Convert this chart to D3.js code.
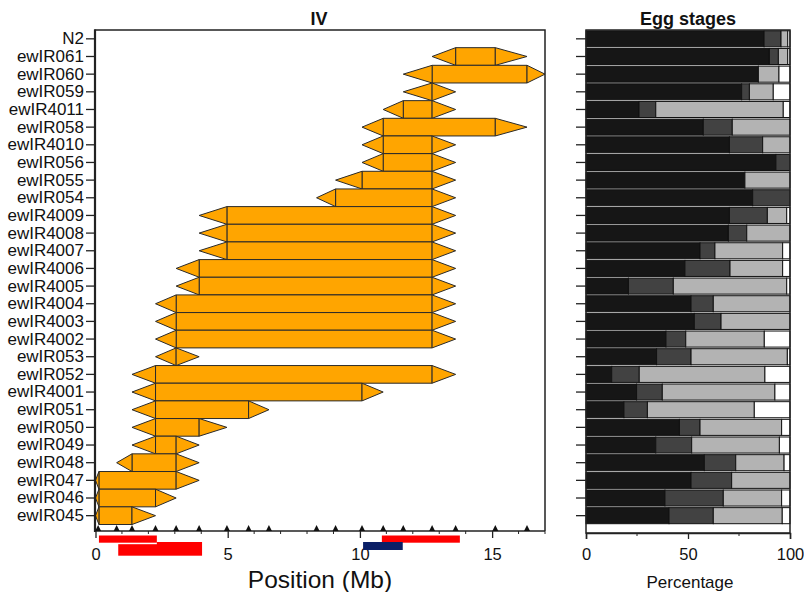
<!DOCTYPE html>
<html><head><meta charset="utf-8">
<script src="https://cdn.jsdelivr.net/npm/d3@7"></script>
<style>body{margin:0;background:#fff}svg{display:block;font-family:"Liberation Sans",Arial,sans-serif}</style>
</head><body><svg id="c" width="804" height="592"></svg>
<script>
const strains = ["N2","ewIR061","ewIR060","ewIR059","ewIR4011","ewIR058","ewIR4010","ewIR056","ewIR055","ewIR054","ewIR4009","ewIR4008","ewIR4007","ewIR4006","ewIR4005","ewIR4004","ewIR4003","ewIR4002","ewIR053","ewIR052","ewIR4001","ewIR051","ewIR050","ewIR049","ewIR048","ewIR047","ewIR046","ewIR045"];
// introgression intervals (Mb): outer left, inner left, inner right, outer right
const outerLeft  = [null,12.73,11.64,11.64,10.88,10.08,10.08,10.08,9.08,8.36,3.92,3.92,3.92,3.05,3.05,2.27,2.27,2.27,2.27,1.38,1.38,1.38,1.38,1.38,0.8,0,0,0];
const innerLeft  = [null,13.62,12.73,12.73,11.64,10.88,10.88,10.88,10.08,9.08,4.97,4.97,4.97,3.92,3.92,3.05,3.05,3.05,3.05,2.27,2.27,2.27,2.27,2.27,1.38,0.13,0.13,0.13];
const innerRight = [null,15.12,16.32,12.73,12.73,15.12,12.73,12.73,12.73,12.73,12.73,12.73,12.73,12.73,12.73,12.73,12.73,12.73,3.05,12.73,10.08,5.79,3.92,3.05,3.05,3.05,2.27,1.38];
const outerRight = [null,16.32,17.0,13.62,13.62,16.32,13.62,13.62,13.62,13.62,13.62,13.62,13.62,13.62,13.62,13.62,13.62,13.62,3.92,13.62,10.88,6.56,4.97,3.92,3.92,3.92,3.05,2.27];
const markerPos = [0.1,0.8,1.38,2.27,3.05,3.92,4.97,5.79,6.56,8.36,9.08,10.08,10.88,11.64,12.73,13.62,15.12,16.32];
const posTicks = [0,5,10,15];
const regionStart = [0.13,0.86,10.83,10.12];
const regionEnd   = [2.32,4.03,13.78,11.62];
const regionLevel = [0,1,0,1];
const regionKind  = ["red","red","red","navy"];
// egg stages (%)
const stage1 = [87.3,89.9,84.5,76.3,26.0,57.5,70.3,93.1,77.9,81.7,70.3,69.8,55.9,48.5,20.8,51.5,53.1,39.2,34.6,12.6,24.8,18.6,45.8,34.2,58.0,51.5,38.7,40.7];
const stage2 = [8.3,4.4,0,3.8,8.2,14.2,16.3,6.9,0,18.3,18.6,9.0,7.3,22.1,22.0,10.9,13.1,9.7,16.9,13.5,12.6,11.5,10.1,17.6,15.4,19.9,28.6,21.7];
const stage3 = [3.3,4.6,10.1,11.7,62.5,28.3,13.4,0,22.1,0,9.5,21.2,33.2,25.8,55.6,37.6,33.8,38.5,47.2,61.6,55.2,52.4,40.0,43.0,23.7,28.6,28.6,33.8];
const stage4 = [1.1,1.1,5.4,8.2,3.3,0,0,0,0,0,1.6,0,3.6,3.6,1.6,0,0,12.6,1.3,12.3,7.4,17.5,4.1,5.2,2.9,0,4.1,3.8];
const pctTicks = [0,50,100];

const svg = d3.select("#c");
const FONT = '"Liberation Sans",Arial,sans-serif';
const y = d3.scaleBand().domain(strains).range([30,524.5]).padding(0);
const x = d3.scaleLinear().domain([0,17]).range([95.5,545]);
const xp = d3.scaleLinear().domain([0,100]).range([586,790]);
const axisY = 531, axisY2 = 533;

// ---------- left panel ----------
const gL = svg.append("g");
strains.forEach((s,i)=>{
  if (outerLeft[i]==null) return;
  const t=y(s), b=y(s)+y.bandwidth(), m=t+y.bandwidth()/2;
  const xl0=x(outerLeft[i]), xl1=x(innerLeft[i]), xr0=x(innerRight[i]), xr1=x(outerRight[i]);
  const st={fill:"#FFA500",stroke:"#2a2a2a","stroke-width":1};
  const add=(d)=>{const p=gL.append("path").attr("d",d);Object.entries(st).forEach(([k,v])=>p.attr(k,v));};
  if (xr0>xl1) add(`M${xl1},${t}H${xr0}V${b}H${xl1}Z`);
  add(`M${xl1},${t}L${xl0},${m}L${xl1},${b}Z`);
  add(`M${xr0},${t}L${xr1},${m}L${xr0},${b}Z`);
});
// frame
gL.append("path").attr("d",`M95,${axisY}V30H545V${axisY}`).attr("fill","none").attr("stroke","#222").attr("stroke-width",1.5);
gL.append("line").attr("x1",95).attr("x2",95).attr("y1",29.5).attr("y2",axisY+1).attr("stroke","#222").attr("stroke-width",2.2);
// y axis
const ya = svg.append("g").attr("transform","translate(95,0)").call(d3.axisLeft(y).tickSize(9).tickPadding(2));
ya.select(".domain").remove();
ya.selectAll("line").attr("stroke","#222").attr("stroke-width",1.3);
ya.selectAll("text").attr("font-size",17).attr("font-family",FONT).attr("fill","#111");
// x axis
const xa = svg.append("g").attr("transform",`translate(0,${axisY})`).call(d3.axisBottom(x).tickValues(posTicks).tickSize(7).tickPadding(10).tickFormat(d3.format("d")));
xa.select(".domain").attr("stroke","#222").attr("stroke-width",1.5).attr("d",`M95,0H545`);
xa.selectAll("line").attr("stroke","#222").attr("stroke-width",1.3);
xa.selectAll("text").attr("font-size",16.5).attr("font-family",FONT).attr("fill","#111");
const minor = d3.range(1,18).filter(v=>!posTicks.includes(v));
svg.append("g").selectAll("line").data(minor).join("line")
  .attr("x1",d=>x(d)).attr("x2",d=>x(d)).attr("y1",axisY).attr("y2",axisY+3).attr("stroke","#222").attr("stroke-width",1);
svg.append("g").selectAll("path").data(markerPos).join("path")
  .attr("d",d=>`M${x(d)-3},${axisY}L${x(d)+3},${axisY}L${x(d)},${axisY-6}Z`).attr("fill","#111");
// regions
const regColor={red:"#FF0000",navy:"#0B1F66"};
const order=[1,0,2,3];
order.forEach(i=>{
  const y0 = regionLevel[i]===0 ? 535.5 : 542;
  const h = regionLevel[i]===0 ? 7.2 : (regionKind[i]==="navy"?8:13.7);
  if(i===0) svg.append("rect").attr("x",x(regionStart[i])).attr("y",y0).attr("width",x(regionEnd[i])-x(regionStart[i])).attr("height",h+1.5).attr("fill","#fff");
  svg.append("rect").attr("x",x(regionStart[i])).attr("y",y0).attr("width",x(regionEnd[i])-x(regionStart[i])).attr("height",h).attr("fill",regColor[regionKind[i]]);
});
svg.append("text").attr("x",320).attr("y",588).attr("text-anchor","middle").attr("font-size",24.5).attr("font-family",FONT).attr("fill","#111").text("Position (Mb)");
svg.append("text").attr("x",319).attr("y",25).attr("text-anchor","middle").attr("font-size",18).attr("font-weight","bold").attr("font-family",FONT).attr("fill","#111").text("IV");

// ---------- right panel ----------
const gR = svg.append("g");
const stageFill=["#161616","#424242","#b3b3b3","#ffffff"];
strains.forEach((s,i)=>{
  const vals=[stage1[i],stage2[i],stage3[i],stage4[i]];
  let acc=0;
  vals.forEach((v,k)=>{
    if(v<=0) return;
    gR.append("rect").attr("x",xp(acc)).attr("y",y(s)+0.8).attr("width",xp(acc+v)-xp(acc)).attr("height",y.bandwidth()-1.6)
      .attr("fill",stageFill[k]).attr("stroke","#111").attr("stroke-width",1);
    acc+=v;
  });
});
gR.append("rect").attr("x",586).attr("y",30).attr("width",204).attr("height",axisY2-30).attr("fill","none").attr("stroke","#222").attr("stroke-width",1.5);
const ya2 = svg.append("g").attr("transform","translate(586,0)").call(d3.axisLeft(y).tickSize(10).tickFormat(""));
ya2.select(".domain").remove();
ya2.selectAll("line").attr("stroke","#222").attr("stroke-width",1.3);
const xa2 = svg.append("g").attr("transform",`translate(0,${axisY2})`).call(d3.axisBottom(xp).tickValues(pctTicks).tickSize(6).tickPadding(9));
xa2.select(".domain").attr("stroke","#222").attr("stroke-width",1.5);
xa2.selectAll("line").attr("stroke","#222").attr("stroke-width",1.3);
xa2.selectAll("text").attr("font-size",16.5).attr("font-family",FONT).attr("fill","#111");
svg.append("g").selectAll("line").data([25,75]).join("line")
  .attr("x1",d=>xp(d)).attr("x2",d=>xp(d)).attr("y1",axisY2).attr("y2",axisY2+3).attr("stroke","#222");
svg.append("text").attr("x",690).attr("y",588).attr("text-anchor","middle").attr("font-size",17).attr("font-family",FONT).attr("fill","#111").text("Percentage");
svg.append("text").attr("x",688).attr("y",25).attr("text-anchor","middle").attr("font-size",18).attr("font-weight","bold").attr("font-family",FONT).attr("fill","#111").text("Egg stages");
</script></body></html>
